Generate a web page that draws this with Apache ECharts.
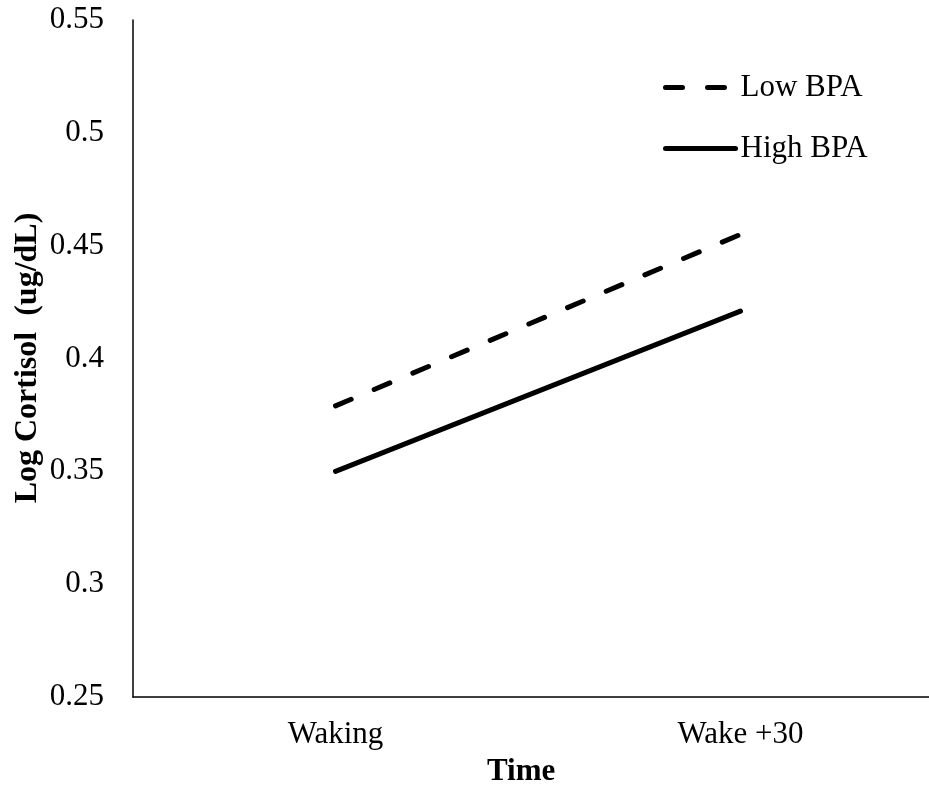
<!DOCTYPE html>
<html>
<head>
<meta charset="utf-8">
<script src="https://cdn.jsdelivr.net/npm/echarts@6/dist/echarts.min.js"></script>
<style>
html,body{margin:0;padding:0;background:#fff;overflow:hidden;width:929px;height:787px;}
#chart{width:943px;height:787px;}
</style>
</head>
<body>
<div id="chart"></div>
<script>
var categories = ['Waking', 'Wake +30'];
var lowBPA = [0.379, 0.455];
var highBPA = [0.350, 0.421];
var yTicks = {min: 0.25, max: 0.55, interval: 0.05};

var FONT = '"Liberation Serif", "Times New Roman", serif';
var lowStyle = {color: '#000', width: 5, type: [17, 25], cap: 'round'};
var highStyle = {color: '#000', width: 5, type: 'solid', cap: 'round'};
var chart = echarts.init(document.getElementById('chart'));
chart.setOption({
  backgroundColor: '#fff',
  animation: false,
  grid: {left: 133, top: 20, right: 0, height: 677, containLabel: false},
  legend: {
    orient: 'vertical',
    left: 663,
    top: 72,
    padding: 0,
    itemWidth: 70,
    itemHeight: 14,
    itemGap: 30,
    itemStyle: {opacity: 0},
    textStyle: {fontFamily: FONT, fontSize: 31, color: '#000', lineHeight: 31},
    data: [
      {name: 'Low BPA', lineStyle: lowStyle, itemStyle: {opacity: 0}},
      {name: 'High BPA', lineStyle: highStyle, itemStyle: {opacity: 0}}
    ]
  },
  xAxis: {
    type: 'category',
    data: categories,
    boundaryGap: true,
    axisLine: {lineStyle: {color: '#000', width: 1.5}},
    axisTick: {show: false},
    axisLabel: {fontFamily: FONT, fontSize: 31, color: '#000', margin: 22}
  },
  yAxis: {
    type: 'value',
    min: yTicks.min,
    max: yTicks.max,
    interval: yTicks.interval,
    splitLine: {show: false},
    axisLine: {show: true, lineStyle: {color: '#000', width: 1.5}},
    axisTick: {show: false},
    axisLabel: {
      fontFamily: FONT, fontSize: 31, color: '#000', margin: 29,
      formatter: function (v) { return String(parseFloat(v.toFixed(2))); }
    }
  },
  graphic: [
    {type: 'text', left: 487, top: 756, style: {text: 'Time', font: 'bold 31px ' + FONT, fill: '#000'}},
    {type: 'text', x: 28, y: 358, rotation: Math.PI / 2,
      style: {text: 'Log Cortisol  (ug/dL)', font: 'bold 32px ' + FONT, fill: '#000',
        textAlign: 'center', textVerticalAlign: 'middle'}}
  ],
  series: [
    {name: 'Low BPA', type: 'line', data: lowBPA, symbol: 'none', lineStyle: lowStyle, itemStyle: {color: '#000'}},
    {name: 'High BPA', type: 'line', data: highBPA, symbol: 'none', lineStyle: highStyle, itemStyle: {color: '#000'}}
  ]
});
</script>
</body>
</html>
